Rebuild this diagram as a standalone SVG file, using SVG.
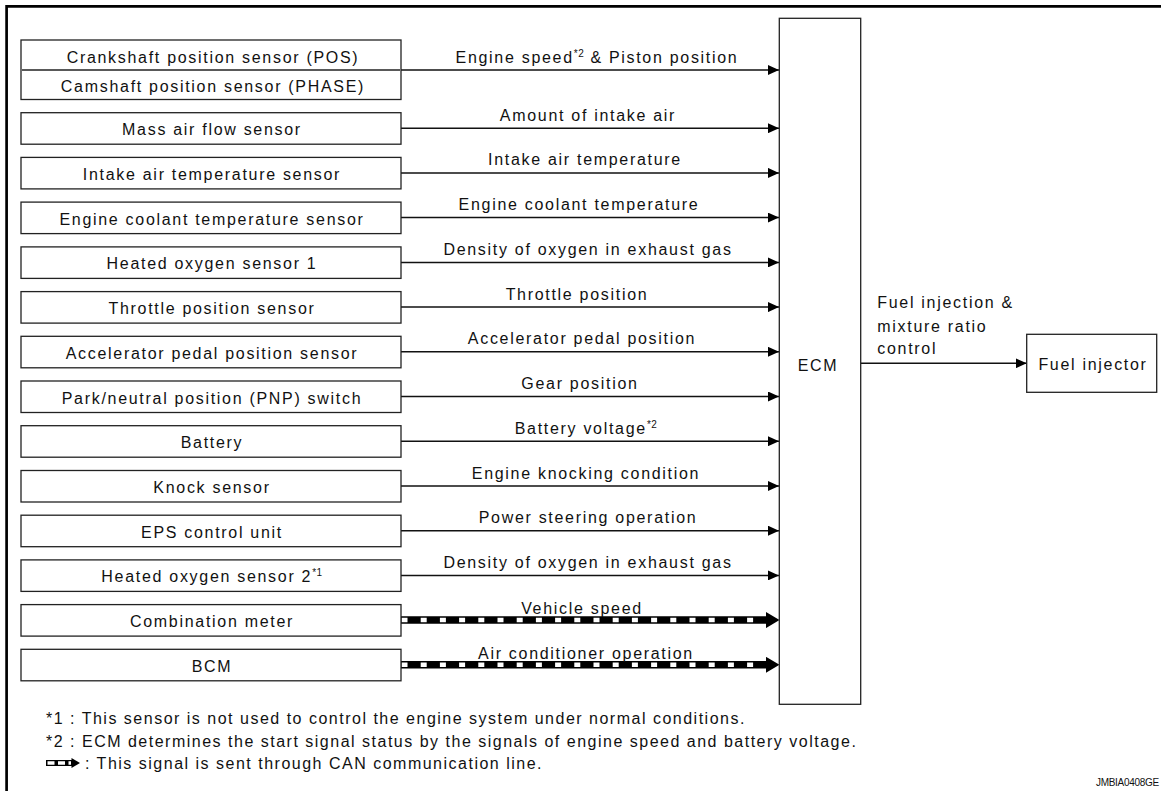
<svg xmlns="http://www.w3.org/2000/svg" width="1161" height="791" viewBox="0 0 1161 791">
<style>
text{font-family:"Liberation Sans",Arial,Helvetica,sans-serif;font-size:16px;fill:#111;letter-spacing:1.7px}
.c{text-anchor:middle}
.box{fill:#fff;stroke:#222;stroke-width:1.3}
.ln{stroke:#111;stroke-width:1.5;fill:none}
.canb{stroke:#000;stroke-width:7.5;fill:none}
.canw{stroke:#fff;stroke-width:4.5;fill:none;stroke-dasharray:6 13.2}
.sup{font-size:10px;letter-spacing:0.5px}
.leg{letter-spacing:1.5px}
</style>
<defs>
<marker id="ah" markerUnits="userSpaceOnUse" markerWidth="11" markerHeight="10" refX="11" refY="5" orient="auto">
<path d="M0,0 L11,5 L0,10 z" fill="#000"/>
</marker>
<marker id="ahc" markerUnits="userSpaceOnUse" markerWidth="14" markerHeight="16" refX="0" refY="8" orient="auto">
<path d="M0,0 L13.5,8 L0,16 z" fill="#000"/>
</marker>
</defs>
<rect width="1161" height="791" fill="#fff"/>
<path d="M6.6,791 V6.3 H1161" fill="none" stroke="#000" stroke-width="2.7"/>

<g id="connectors">
<line class="ln" x1="401" y1="70" x2="779" y2="70" marker-end="url(#ah)"/>
<line class="ln" x1="401" y1="128.2" x2="779" y2="128.2" marker-end="url(#ah)"/>
<line class="ln" x1="401" y1="172.9" x2="779" y2="172.9" marker-end="url(#ah)"/>
<line class="ln" x1="401" y1="217.6" x2="779" y2="217.6" marker-end="url(#ah)"/>
<line class="ln" x1="401" y1="262.4" x2="779" y2="262.4" marker-end="url(#ah)"/>
<line class="ln" x1="401" y1="307.1" x2="779" y2="307.1" marker-end="url(#ah)"/>
<line class="ln" x1="401" y1="351.8" x2="779" y2="351.8" marker-end="url(#ah)"/>
<line class="ln" x1="401" y1="396.5" x2="779" y2="396.5" marker-end="url(#ah)"/>
<line class="ln" x1="401" y1="441.2" x2="779" y2="441.2" marker-end="url(#ah)"/>
<line class="ln" x1="401" y1="486" x2="779" y2="486" marker-end="url(#ah)"/>
<line class="ln" x1="401" y1="530.7" x2="779" y2="530.7" marker-end="url(#ah)"/>
<line class="ln" x1="401" y1="575.4" x2="779" y2="575.4" marker-end="url(#ah)"/>
<line class="canb" x1="401" y1="620.1" x2="766" y2="620.1" marker-end="url(#ahc)"/>
<line class="canw" x1="401.5" y1="620.1" x2="754" y2="620.1"/>
<line class="canb" x1="401" y1="664.8" x2="766" y2="664.8" marker-end="url(#ahc)"/>
<line class="canw" x1="401.5" y1="664.8" x2="754" y2="664.8"/>
<line class="ln" x1="860.7" y1="363.3" x2="1026.7" y2="363.3" marker-end="url(#ah)"/>

<text class="c" x="597" y="63">Engine speed<tspan class="sup" dy="-6">*2</tspan><tspan dy="6"> &amp; Piston position</tspan></text>
<text class="c" x="588" y="120.7">Amount of intake air</text>
<text class="c" x="585" y="165.4">Intake air temperature</text>
<text class="c" x="579" y="210.1">Engine coolant temperature</text>
<text class="c" x="588" y="254.9">Density of oxygen in exhaust gas</text>
<text class="c" x="577" y="299.6">Throttle position</text>
<text class="c" x="582" y="344.3">Accelerator pedal position</text>
<text class="c" x="580" y="389">Gear position</text>
<text class="c" x="586" y="433.7">Battery voltage<tspan class="sup" dy="-6">*2</tspan></text>
<text class="c" x="586" y="478.5">Engine knocking condition</text>
<text class="c" x="588" y="523.2">Power steering operation</text>
<text class="c" x="588" y="567.9">Density of oxygen in exhaust gas</text>
<text class="c" x="582" y="613.8">Vehicle speed</text>
<text class="c" x="586" y="658.5">Air conditioner operation</text>
<text x="877.3" y="308.3">Fuel injection &amp;</text>
<text x="877.3" y="331.7">mixture ratio</text>
<text x="877.3" y="354">control</text>
</g>

<g id="n-crank-cam">
<rect class="box" x="21" y="40" width="380" height="59.5"/>
<line x1="22" y1="70" x2="400" y2="70" stroke="#222" stroke-width="1.3"/>
<text class="c" x="213" y="62.5">Crankshaft position sensor (POS)</text>
<text class="c" x="213" y="91.7">Camshaft position sensor (PHASE)</text>
</g>
<g id="n-maf"><rect class="box" x="21" y="112.7" width="380" height="31.5"/><text class="c" x="212" y="135.2">Mass air flow sensor</text></g>
<g id="n-iat"><rect class="box" x="21" y="157.4" width="380" height="31.5"/><text class="c" x="212" y="179.9">Intake air temperature sensor</text></g>
<g id="n-ect"><rect class="box" x="21" y="202.1" width="380" height="31.5"/><text class="c" x="212" y="224.6">Engine coolant temperature sensor</text></g>
<g id="n-ho2s1"><rect class="box" x="21" y="246.9" width="380" height="31.5"/><text class="c" x="212" y="269.4">Heated oxygen sensor 1</text></g>
<g id="n-tps"><rect class="box" x="21" y="291.6" width="380" height="31.5"/><text class="c" x="212" y="314.1">Throttle position sensor</text></g>
<g id="n-apps"><rect class="box" x="21" y="336.3" width="380" height="31.5"/><text class="c" x="212" y="358.8">Accelerator pedal position sensor</text></g>
<g id="n-pnp"><rect class="box" x="21" y="381" width="380" height="31.5"/><text class="c" x="212" y="403.5">Park/neutral position (PNP) switch</text></g>
<g id="n-battery"><rect class="box" x="21" y="425.7" width="380" height="31.5"/><text class="c" x="212" y="448.2">Battery</text></g>
<g id="n-knock"><rect class="box" x="21" y="470.5" width="380" height="31.5"/><text class="c" x="212" y="493">Knock sensor</text></g>
<g id="n-eps"><rect class="box" x="21" y="515.2" width="380" height="31.5"/><text class="c" x="212" y="537.7">EPS control unit</text></g>
<g id="n-ho2s2"><rect class="box" x="21" y="559.9" width="380" height="31.5"/><text class="c" x="212" y="582.4">Heated oxygen sensor 2<tspan class="sup" dy="-6">*1</tspan></text></g>
<g id="n-meter"><rect class="box" x="21" y="604.6" width="380" height="31.5"/><text class="c" x="212" y="627.1">Combination meter</text></g>
<g id="n-bcm"><rect class="box" x="21" y="649.3" width="380" height="31.5"/><text class="c" x="212" y="671.8">BCM</text></g>

<g id="n-ecm"><rect class="box" x="779.3" y="18.3" width="81.4" height="686"/><text class="c" x="818" y="370.7">ECM</text></g>
<g id="n-injector"><rect class="box" x="1026.7" y="334.3" width="130" height="58"/><text class="c" x="1093" y="370">Fuel injector</text></g>

<g id="legend">
<text class="leg" x="46" y="724">*1 : This sensor is not used to control the engine system under normal conditions.</text>
<text class="leg" x="46" y="746.5">*2 : ECM determines the start signal status by the signals of engine speed and battery voltage.</text>
<line x1="46" y1="763" x2="72" y2="763" stroke="#000" stroke-width="6"/>
<line x1="47.5" y1="763" x2="71" y2="763" stroke="#fff" stroke-width="3.4" stroke-dasharray="7 3.5"/>
<path d="M71.5,758 L80,763 L71.5,768" fill="#000"/>
<text class="leg" x="85" y="768.5">: This signal is sent through CAN communication line.</text>
<text x="1096" y="786" style="font-size:10px;letter-spacing:-0.3px">JMBIA0408GE</text>
</g>
</svg>
